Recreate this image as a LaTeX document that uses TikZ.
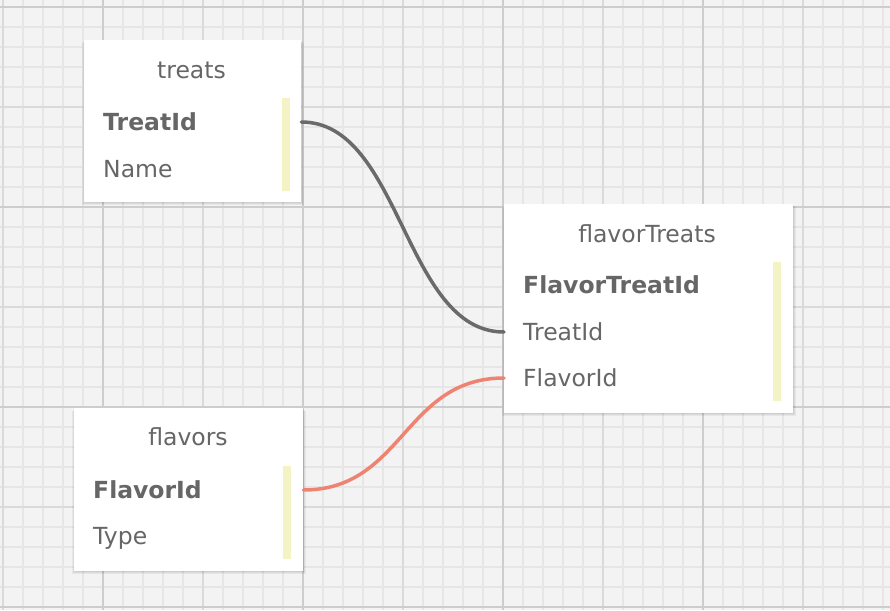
\documentclass[tikz,border=0pt]{standalone}
\usepackage{fontspec}
\setmainfont{DejaVu Sans}
\begin{document}
\begin{tikzpicture}[x=1pt,y=-1pt,
  minor/.style={draw=gridminor,line width=1.6pt},
  major/.style={draw=gridmajor,line width=1.8pt},
  majorb/.style={draw=gridmajorb,line width=1.8pt},
  tbl/.style={draw=none,fill=white,anchor=north west,inner sep=0pt},
  shadowbox/.style={fill=black,fill opacity=0.05,draw=none},
  title/.style={anchor=base,text=txt,font=\fontsize{23.5}{28}\selectfont,inner sep=0pt},
  row/.style={anchor=base west,text=txt,font=\fontsize{23.5}{28}\selectfont,inner sep=0pt},
  keyrow/.style={row,font=\fontsize{23.5}{28}\selectfont\bfseries},
  ybar/.style={fill=ybarc,draw=none},
  rel/.style={line width=3.5pt,line cap=round},
]
\definecolor{bg}{HTML}{F3F3F3}
\definecolor{gridminor}{HTML}{E6E6E6}
\definecolor{gridmajor}{HTML}{DADADA}
\definecolor{gridmajorb}{HTML}{CDCDCD}
\definecolor{txt}{HTML}{666666}
\definecolor{ybarc}{HTML}{F3F3C6}
\definecolor{relgray}{HTML}{6A6A6A}
\definecolor{relred}{HTML}{EF8372}
\useasboundingbox (0,0) rectangle (890,610);
\fill[bg] (0,0) rectangle (890,610);
% grid
\foreach \x in {3,23,...,883} \draw[minor] (\x,0) -- (\x,610);
\foreach \y in {7,27,...,607} \draw[minor] (0,\y) -- (890,\y);
\foreach \x in {3,203,403,603,803} \draw[major] (\x,0) -- (\x,610);
\foreach \y in {107,307,507} \draw[major] (0,\y) -- (890,\y);
\foreach \x in {103,303,503,703} \draw[majorb] (\x,0) -- (\x,610);
\foreach \y in {7,207,407,607} \draw[majorb] (0,\y) -- (890,\y);
% shadows
\foreach \d in {1,2,3} {
  \fill[shadowbox] (84-\d+1,40+\d) rectangle (301+\d,202+\d);
  \fill[shadowbox] (504-\d+1,204+\d) rectangle (793+\d,413+\d);
  \fill[shadowbox] (74-\d+1,408+\d) rectangle (303+\d,571+\d);
}
% tables
\node[tbl,minimum width=217pt,minimum height=162pt] (treats) at (84,40) {};
\node[tbl,minimum width=289pt,minimum height=209pt] (flavorTreats) at (504,204) {};
\node[tbl,minimum width=229pt,minimum height=163pt] (flavors) at (74,408) {};
% yellow bars
\fill[ybarc] (282,98) rectangle (290,191);
\fill[ybarc] (773,262) rectangle (781,401);
\fill[ybarc] (283,466) rectangle (291,559);
% texts
\node[title] (tTitle) at (191.5,78) {treats};
\node[keyrow] (tTid) at (103,130) {TreatId};
\node[row] (tName) at (103,177) {Name};
\node[title] (ftTitle) at (647,242) {flavorTreats};
\node[keyrow] (ftId) at (523,293) {FlavorTreatId};
\node[row] (ftTid) at (523,340) {TreatId};
\node[row] (ftFid) at (523,386) {FlavorId};
\node[title] (fTitle) at (188,445) {flavors};
\node[keyrow] (fFid) at (93,498) {FlavorId};
\node[row] (fType) at (93,544) {Type};
% connector endpoints
\coordinate (a1) at (treats.east |- tTid.base);
\coordinate (a2) at (flavorTreats.west |- ftTid.base);
\coordinate (b1) at (flavors.east |- fFid.base);
\coordinate (b2) at (flavorTreats.west |- ftFid.base);
\draw[rel,draw=relgray] ([yshift=8pt]a1) .. controls ([xshift=100pt,yshift=8pt]a1) and ([xshift=-100pt,yshift=8pt]a2) .. ([yshift=8pt]a2);
\draw[rel,draw=relred] ([yshift=8pt]b1) .. controls ([xshift=100pt,yshift=8pt]b1) and ([xshift=-100pt,yshift=8pt]b2) .. ([yshift=8pt]b2);
\end{tikzpicture}
\end{document}
